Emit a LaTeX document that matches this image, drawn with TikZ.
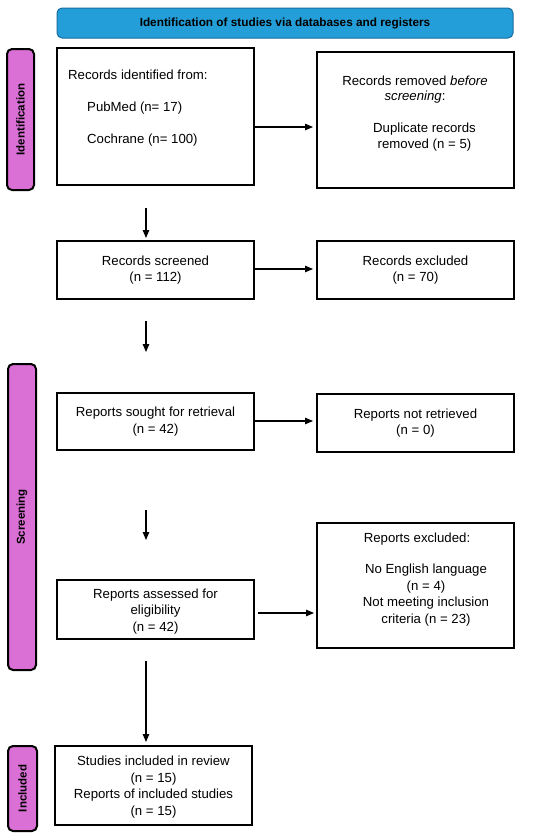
\documentclass[tikz,border=0pt]{standalone}
\usepackage{fontspec}
\setmainfont{Liberation Sans}
\usetikzlibrary{arrows.meta}
\definecolor{bannerblue}{RGB}{36,158,216}
\definecolor{bannerline}{RGB}{24,110,160}
\definecolor{sidepink}{RGB}{218,112,214}
\tikzset{
  box/.style={draw, line width=1.5pt, inner sep=0pt, outer sep=0pt},
  sidebar/.style={draw, line width=2pt, fill=sidepink, rounded corners=5pt, inner sep=0pt},
  sidelabel/.style={rotate=90, font=\fontsize{11.5}{13}\selectfont\bfseries, inner sep=0pt},
  body/.style={font=\fontsize{13.2}{16.5}\selectfont, inner sep=0pt, align=center},
  bodyl/.style={font=\fontsize{13.2}{16.5}\selectfont, inner sep=0pt, anchor=mid west},
  arr/.style={line width=1.1pt, -{Triangle[length=8pt,width=6.5pt]}}
}
\begin{document}
\begin{tikzpicture}[x=1pt,y=1pt]
\useasboundingbox[fill=white] (0,0) rectangle (550,-839);
% banner
\node[draw=bannerline, line width=1pt, fill=bannerblue, rounded corners=5pt,
      minimum width=456pt, minimum height=30pt, inner sep=0pt,
      font=\fontsize{11.8}{14}\selectfont\bfseries] (banner) at (285,-23)
      {Identification of studies via databases and registers};
% side bars
\node[sidebar, minimum width=27pt, minimum height=141pt] (s1) at (20.5,-119.5) {};
\node[sidelabel] (l1) at (s1.center) {Identification};
\node[sidebar, minimum width=28pt, minimum height=306pt] (s2) at (22,-517) {};
\node[sidelabel] (l2) at (s2.center) {Screening};
\node[sidebar, minimum width=29pt, minimum height=85pt] (s3) at (22.5,-788.5) {};
\node[sidelabel] (l3) at (s3.center) {Included};
% boxes
\node[box, minimum width=197pt, minimum height=137pt] (b1) at (155.5,-116.5) {};
\node[box, minimum width=197pt, minimum height=136pt] (b2) at (415.5,-120) {};
\node[box, minimum width=197pt, minimum height=58pt] (b3) at (155.5,-270) {};
\node[box, minimum width=197pt, minimum height=58pt] (b4) at (415.5,-270) {};
\node[box, minimum width=197pt, minimum height=57pt] (b5) at (155.5,-421.5) {};
\node[box, minimum width=197pt, minimum height=58pt] (b6) at (415.5,-423) {};
\node[box, minimum width=197pt, minimum height=59pt] (b7) at (155.5,-609.5) {};
\node[box, minimum width=197pt, minimum height=125pt] (b8) at (415.5,-585.5) {};
\node[box, minimum width=197pt, minimum height=79pt] (b9) at (153.5,-785.5) {};
% texts box1
\node[bodyl] (t1a) at (68,-77) {Records identified from:};
\node[bodyl] (t1b) at (87,-109) {PubMed (n= 17)};
\node[bodyl] (t1c) at (87,-141) {Cochrane (n= 100)};
% texts box2
\node[body] (t2a) at (415,-81) {Records removed \textit{before}};
\node[body] (t2b) at (415,-97) {\textit{screening}:};
\node[body] (t2c) at (424.5,-137) {Duplicate records\\removed (n = 5)};
% other texts
\node[body] (t3) at (155.5,-270) {Records screened\\(n = 112)};
\node[body] (t4) at (415.5,-270) {Records excluded\\(n = 70)};
\node[body] (t5) at (155.5,-421.5) {Reports sought for retrieval\\(n = 42)};
\node[body] (t6) at (415.5,-423) {Reports not retrieved\\(n = 0)};
\node[body] (t7) at (155.5,-611.5) {Reports assessed for\\eligibility\\(n = 42)};
\node[body] (t8a) at (417,-539) {Reports excluded:};
\node[body] (t8b) at (426,-595) {No English language\\(n = 4)\\Not meeting inclusion\\criteria (n = 23)};
\node[body] (t9) at (153.5,-787) {Studies included in review\\(n = 15)\\Reports of included studies\\(n = 15)};
% arrows
\coordinate (ax) at (146,0);
\coordinate (r1) at (0,-127);
\coordinate (r3) at (0,-269);
\coordinate (r5) at (0,-421);
\coordinate (r7) at (0,-613);
\draw[arr, shorten >=4pt] (b1.east |- r1) -- (b2.west |- r1);
\draw[arr, shorten >=4pt] (b3.east |- r3) -- (b4.west |- r3);
\draw[arr, shorten >=4pt] (b5.east |- r5) -- (b6.west |- r5);
\draw[arr, shorten <=4pt, shorten >=3pt] (b7.east |- r7) -- (b8.west |- r7);
\draw[arr, shorten <=23pt, shorten >=3pt] (b1.south -| ax) -- (b3.north -| ax);
\draw[arr, shorten <=22pt, shorten >=41pt] (b3.south -| ax) -- (b5.north -| ax);
\draw[arr, shorten <=60pt, shorten >=40pt] (b5.south -| ax) -- (b7.north -| ax);
\draw[arr, shorten <=22pt, shorten >=4pt] (b7.south -| ax) -- (b9.north -| ax);
\end{tikzpicture}
\end{document}
